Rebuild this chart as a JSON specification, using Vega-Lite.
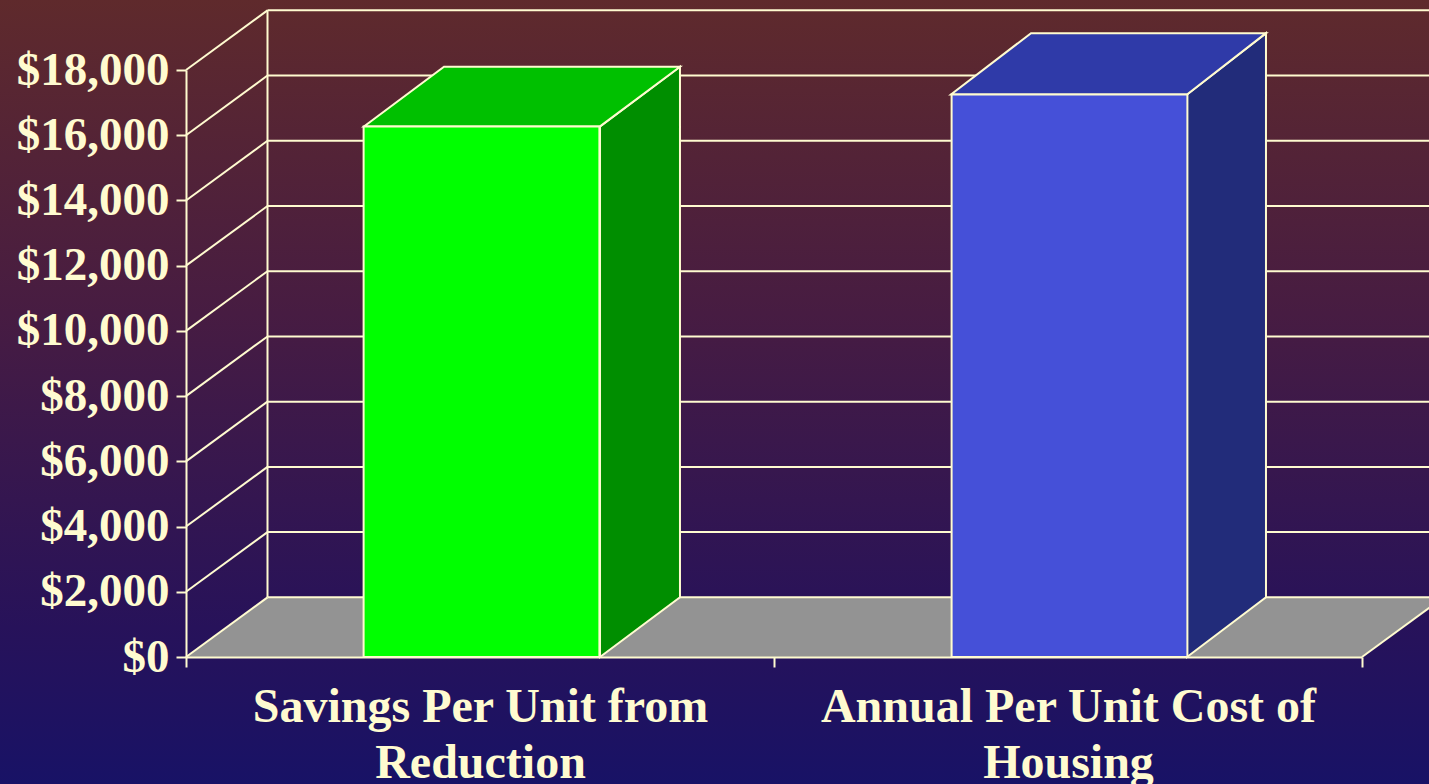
{
"$schema":"https://vega.github.io/schema/vega-lite/v6.json",
"width":1176,"height":587,
"autosize":{"type":"none"},
"padding":{"left":186,"top":70,"right":67,"bottom":127},
"config":{"view":{"stroke":null}},
"datasets":{
"bars":[{"category":"Savings Per Unit from|Reduction","value":16270},{"category":"Annual Per Unit Cost of|Housing","value":17250}],
"backdrop":[{"x":-0.32,"x2":2.12,"y":-3900,"y2":20160}],
"floor":[{"face":"floor","x":0,"y":0,"y2":0},{"face":"floor","x":0.1386,"y":0,"y2":1830},{"face":"floor","x":2,"y":0,"y2":1830},{"face":"floor","x":2.1386,"y":1830,"y2":1830}],
"wall":[
{"line":"back","x":0.1386,"y":1830},{"line":"back","x":0.1386,"y":19830},
{"line":"g0","x":0.1386,"y":1830},{"line":"g0","x":2.1386,"y":1830},
{"line":"g2","x":0.1386,"y":3830},{"line":"g2","x":2.1386,"y":3830},
{"line":"g4","x":0.1386,"y":5830},{"line":"g4","x":2.1386,"y":5830},
{"line":"g6","x":0.1386,"y":7830},{"line":"g6","x":2.1386,"y":7830},
{"line":"g8","x":0.1386,"y":9830},{"line":"g8","x":2.1386,"y":9830},
{"line":"g10","x":0.1386,"y":11830},{"line":"g10","x":2.1386,"y":11830},
{"line":"g12","x":0.1386,"y":13830},{"line":"g12","x":2.1386,"y":13830},
{"line":"g14","x":0.1386,"y":15830},{"line":"g14","x":2.1386,"y":15830},
{"line":"g16","x":0.1386,"y":17830},{"line":"g16","x":2.1386,"y":17830},
{"line":"g18","x":0.1386,"y":19830},{"line":"g18","x":2.1386,"y":19830},
{"line":"d0","x":0,"y":0},{"line":"d0","x":0.1386,"y":1830},
{"line":"d2","x":0,"y":2000},{"line":"d2","x":0.1386,"y":3830},
{"line":"d4","x":0,"y":4000},{"line":"d4","x":0.1386,"y":5830},
{"line":"d6","x":0,"y":6000},{"line":"d6","x":0.1386,"y":7830},
{"line":"d8","x":0,"y":8000},{"line":"d8","x":0.1386,"y":9830},
{"line":"d10","x":0,"y":10000},{"line":"d10","x":0.1386,"y":11830},
{"line":"d12","x":0,"y":12000},{"line":"d12","x":0.1386,"y":13830},
{"line":"d14","x":0,"y":14000},{"line":"d14","x":0.1386,"y":15830},
{"line":"d16","x":0,"y":16000},{"line":"d16","x":0.1386,"y":17830},
{"line":"d18","x":0,"y":18000},{"line":"d18","x":0.1386,"y":19830},
{"line":"e","x":2,"y":0},{"line":"e","x":2.1386,"y":1830}
],
"faces":[
{"face":"green side","x":0.7041,"y":0,"y2":16270},{"face":"green side","x":0.8401,"y":1830,"y2":18100},
{"face":"green top","x":0.3027,"y":16270,"y2":16270},{"face":"green top","x":0.4388,"y":16270,"y2":18100},{"face":"green top","x":0.7041,"y":16270,"y2":18100},{"face":"green top","x":0.8401,"y":18100,"y2":18100},
{"face":"blue side","x":1.7024,"y":0,"y2":17250},{"face":"blue side","x":1.8367,"y":1830,"y2":19130},
{"face":"blue top","x":1.301,"y":17250,"y2":17250},{"face":"blue top","x":1.4371,"y":17250,"y2":19130},{"face":"blue top","x":1.7024,"y":17250,"y2":19130},{"face":"blue top","x":1.8367,"y":19130,"y2":19130}
]},
"resolve":{"scale":{"x":"independent"},"axis":{"x":"independent"}},
"layer":[
{"data":{"name":"backdrop"},
"mark":{"type":"rect","color":{"gradient":"linear","x1":0,"y1":0,"x2":0,"y2":1,"stops":[{"offset":0,"color":"#5f2a2c"},{"offset":0.4,"color":"#471c42"},{"offset":0.8,"color":"#27125a"},{"offset":1,"color":"#181266"}]}},
"encoding":{
"x":{"field":"x","type":"quantitative","scale":{"domain":[0,2],"nice":false,"zero":false},"axis":null},"x2":{"field":"x2"},
"y":{"field":"y","type":"quantitative","scale":{"domain":[0,18000],"nice":false,"zero":false},
"axis":{"title":null,"values":[0,2000,4000,6000,8000,10000,12000,14000,16000,18000],"format":"$,.0f","grid":false,"labelFont":"Liberation Serif","labelFontWeight":"bold","labelFontSize":47,"labelColor":"#fffbd0","labelLimit":0,"labelPadding":7,"tickSize":10,"tickWidth":2,"tickColor":"#fffbd0","domainColor":"#fffbd0","domainWidth":2,"zindex":1}},"y2":{"field":"y2"}}},
{"data":{"name":"floor"},
"mark":{"type":"area","color":"#939393","interpolate":"linear","orient":"vertical"},
"encoding":{
"x":{"field":"x","type":"quantitative","scale":{"domain":[0,2],"nice":false,"zero":false},"axis":null},
"y":{"field":"y","type":"quantitative","title":null},"y2":{"field":"y2"}}},
{"data":{"name":"wall"},
"mark":{"type":"line","color":"#fffbd0","strokeWidth":2},
"encoding":{
"x":{"field":"x","type":"quantitative","scale":{"domain":[0,2],"nice":false,"zero":false},"axis":null},
"y":{"field":"y","type":"quantitative","title":null},
"detail":{"field":"line"},"order":{"field":"y"}}},
{"data":{"name":"faces"},
"mark":{"type":"area","stroke":"#fffbd0","strokeWidth":2,"orient":"vertical","opacity":1,"fillOpacity":1},
"encoding":{
"x":{"field":"x","type":"quantitative","scale":{"domain":[0,2],"nice":false,"zero":false},"axis":null},
"y":{"field":"y","type":"quantitative","title":null},"y2":{"field":"y2"},
"fill":{"field":"face","type":"nominal","legend":null,"scale":{"domain":["green side","green top","blue side","blue top"],"range":["#008e00","#00c000","#222c7a","#2f3aa8"]}}}},
{"data":{"name":"bars"},
"mark":{"type":"bar","stroke":"#fffbd0","strokeWidth":2,"xOffset":1.5,"width":{"band":0.401}},
"encoding":{
"x":{"field":"category","type":"nominal","sort":null,"scale":{"paddingInner":0,"paddingOuter":0},
"axis":{"title":null,"labelAngle":0,"labelExpr":"split(datum.label,'|')","labelFont":"Liberation Serif","labelFontWeight":"bold","labelFontSize":48,"labelColor":"#fffbd0","labelLimit":0,"labelLineHeight":56,"labelPadding":16,"tickBand":"extent","tickSize":10,"tickWidth":2,"tickColor":"#fffbd0","domainColor":"#fffbd0","domainWidth":2,"zindex":1}},
"y":{"field":"value","type":"quantitative","title":null},
"color":{"field":"category","type":"nominal","sort":null,"legend":null,"scale":{"range":["#00ff00","#4550d8"]}}}}
]}
